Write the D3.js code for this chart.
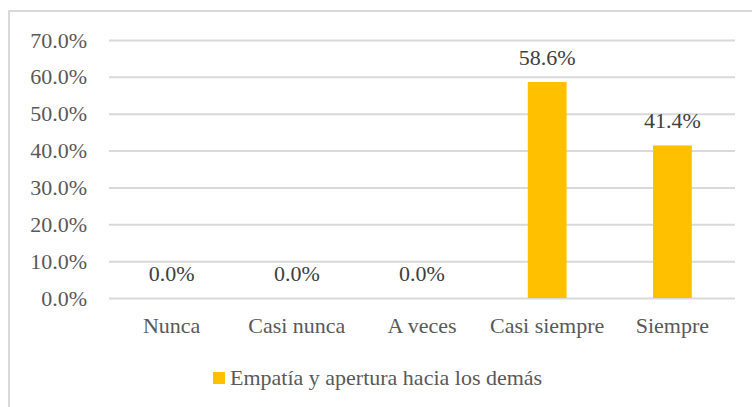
<html>
<head>
<meta charset="utf-8">
<script src="https://cdn.jsdelivr.net/npm/d3@7"></script>
</head>
<body style="margin:0">
<svg id="s" width="752" height="407"></svg>
<script>
// Data
const categories = ["Nunca", "Casi nunca", "A veces", "Casi siempre", "Siempre"];
const values = [0.0, 0.0, 0.0, 0.586, 0.414];
const seriesName = "Empatía y apertura hacia los demás";
const yTicks = [0, 0.1, 0.2, 0.3, 0.4, 0.5, 0.6, 0.7];

const plot = { left: 109, right: 735, top: 40, bottom: 298 };
const barColor = "#FFC000";
const gridColor = "#D9D9D9";
const textColor = "#595959";
const labelColor = "#404040";
const pct = d3.format(".1%");

const svg = d3.select("#s");

// Chart frame (right and bottom edges run past the canvas)
svg.append("rect")
  .attr("x", 9).attr("y", 11)
  .attr("width", 780).attr("height", 420)
  .attr("fill", "#fff")
  .attr("stroke", gridColor)
  .attr("stroke-width", 2);

const x = d3.scaleBand()
  .domain(categories)
  .range([plot.left, plot.right])
  .paddingInner(0.69)
  .paddingOuter(0.345);

const y = d3.scaleLinear()
  .domain([0, 0.7])
  .range([plot.bottom, plot.top]);

// Y axis: gridlines plus tick labels
const yAxis = svg.append("g")
  .attr("transform", `translate(${plot.left},0)`)
  .call(d3.axisLeft(y)
    .tickValues(yTicks)
    .tickFormat(pct)
    .tickSize(-(plot.right - plot.left))
    .tickPadding(22));
yAxis.attr("font-family", null).attr("font-size", null);
yAxis.select(".domain").remove();
yAxis.selectAll(".tick line")
  .attr("stroke", gridColor)
  .attr("stroke-width", 2);
yAxis.selectAll(".tick text")
  .style("font-family", '"Liberation Serif"')
  .style("font-size", "22px")
  .style("fill", textColor);

// Bars
svg.append("g").selectAll("rect")
  .data(categories)
  .join("rect")
  .attr("x", d => x(d))
  .attr("width", x.bandwidth())
  .attr("y", (d, i) => y(values[i]))
  .attr("height", (d, i) => y(0) - y(values[i]))
  .attr("fill", barColor);

// Legend swatch
svg.append("rect")
  .attr("x", 213).attr("y", 372)
  .attr("width", 12).attr("height", 12)
  .attr("fill", barColor);

// Value labels, category labels and legend entry
const texts = [
  ...categories.map((d, i) => ({ s: pct(values[i]), x: x(d) + x.bandwidth() / 2, y: y(values[i]) - 17, a: "middle", c: labelColor })),
  ...categories.map(d => ({ s: d, x: x(d) + x.bandwidth() / 2, y: plot.bottom + 35, a: "middle", c: textColor })),
  { s: seriesName, x: 230, y: 385, a: "start", c: textColor }
];

svg.selectAll("text.lbl")
  .data(texts)
  .join("text")
  .attr("class", "lbl")
  .attr("x", d => d.x)
  .attr("y", d => d.y)
  .style("font-family", '"Liberation Serif"')
  .style("font-size", "22px")
  .style("fill", d => d.c)
  .style("text-anchor", d => d.a)
  .text(d => d.s);
</script>
</body>
</html>
